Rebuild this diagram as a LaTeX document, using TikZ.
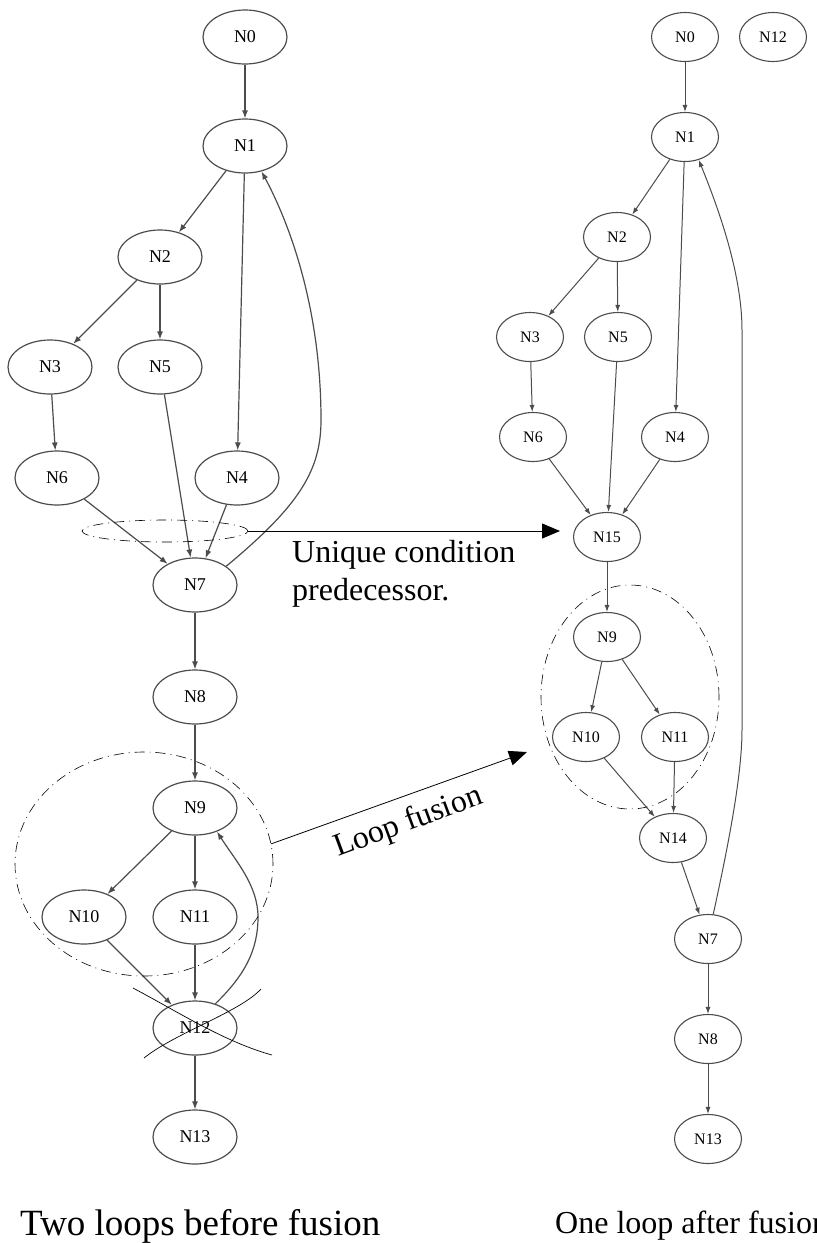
\documentclass[tikz,border=0pt]{standalone}
\usepackage{fontspec}
\setmainfont{Liberation Serif}
\usetikzlibrary{shapes.geometric,arrows.meta}
\begin{document}
\begin{tikzpicture}[x=1pt,y=-1pt,
  lnode/.style={ellipse,draw=black!70,line width=1.2pt,minimum width=84pt,minimum height=54pt,inner sep=0pt,font=\fontsize{18}{20}\selectfont},
  rnode/.style={ellipse,draw=black!70,line width=1.1pt,minimum width=67pt,minimum height=49pt,inner sep=0pt,font=\fontsize{16}{18}\selectfont},
  ledge/.style={draw=black!70,line width=1.2pt,-{Latex[length=8pt,width=6pt]}},
  redge/.style={draw=black!70,line width=1pt,-{Latex[length=7pt,width=5pt]}},
  dashdot/.style={draw=black,line width=0.6pt,dash pattern=on 10pt off 5pt on 1pt off 5pt},
  bigarrow/.style={draw=black,line width=0.8pt,-{Triangle[length=18pt,width=15pt]}},
  lbltext/.style={font=\fontsize{32}{38}\selectfont,inner sep=0pt}
]
\useasboundingbox (0,0) rectangle (817,1243);

% ---------- left graph ----------
\node[lnode] (a0) at (245,37) {N0};
\node[lnode] (a1) at (245,146) {N1};
\node[lnode] (a2) at (160,257) {N2};
\node[lnode] (a3) at (50,367) {N3};
\node[lnode] (a5) at (160,367) {N5};
\node[lnode] (a6) at (57,478) {N6};
\node[lnode] (a4) at (237,478) {N4};
\node[lnode] (a7) at (195,585) {N7};
\node[lnode] (a8) at (195,697) {N8};
\node[lnode] (a9) at (195,808) {N9};
\node[lnode] (a10) at (84,917) {N10};
\node[lnode] (a11) at (195,917) {N11};
\node[lnode] (a12) at (195,1028) {N12};
\node[lnode] (a13) at (195,1137) {N13};

\draw[ledge] (a0) -- (a1);
\draw[ledge] (a1) -- (a2);
\draw[ledge] (a1) -- (a4);
\draw[ledge] (a2) -- (a3);
\draw[ledge] (a2) -- (a5);
\draw[ledge] (a3) -- (a6);
\draw[ledge] (a5) -- (a7);
\draw[ledge] (a6) -- (a7);
\draw[ledge] (a4) -- (a7);
\draw[ledge] (a7.31) .. controls (300,505) and (321,470) .. (321,420)
   .. controls (321,300) and (285,215) .. (a1.-57);
\draw[ledge] (a7) -- (a8);
\draw[ledge] (a8) -- (a9);
\draw[ledge] (a9) -- (a10);
\draw[ledge] (a9) -- (a11);
\draw[ledge] (a10) -- (a12);
\draw[ledge] (a11) -- (a12);
\draw[ledge] (a12.50) .. controls (245,975) and (258,950) .. (258,917)
   .. controls (258,885) and (235,860) .. (a9.-47);
\draw[ledge] (a12) -- (a13);

% cross over N12
\draw[line width=0.7pt] (133,988) .. controls (180,1013) and (225,1042) .. (272,1055);
\draw[line width=0.7pt] (144,1058) .. controls (175,1033) and (240,1012) .. (261,989);

% ---------- right graph ----------
\node[rnode] (b0) at (685,37) {N0};
\node[rnode] (b12) at (773,37) {N12};
\node[rnode] (b1) at (685,137) {N1};
\node[rnode] (b2) at (617,237) {N2};
\node[rnode] (b3) at (530,337) {N3};
\node[rnode] (b5) at (618,337) {N5};
\node[rnode] (b6) at (533,437) {N6};
\node[rnode] (b4) at (675,437) {N4};
\node[rnode] (b15) at (607,537) {N15};
\node[rnode] (b9) at (607,637) {N9};
\node[rnode] (b10) at (586,737) {N10};
\node[rnode] (b11) at (675,737) {N11};
\node[rnode] (b14) at (673,838) {N14};
\node[rnode] (b7) at (708,939) {N7};
\node[rnode] (b8) at (708,1039) {N8};
\node[rnode] (b13) at (708,1139) {N13};

\draw[redge] (b0) -- (b1);
\draw[redge] (b1) -- (b2);
\draw[redge] (b1) -- (b4);
\draw[redge] (b2) -- (b3);
\draw[redge] (b2) -- (b5);
\draw[redge] (b3) -- (b6);
\draw[redge] (b5) -- (b15);
\draw[redge] (b6) -- (b15);
\draw[redge] (b4) -- (b15);
\draw[redge] (b15) -- (b9);
\draw[redge] (b9) -- (b10);
\draw[redge] (b9) -- (b11);
\draw[redge] (b10) -- (b14);
\draw[redge] (b11) -- (b14);
\draw[redge] (b14) -- (b7);
\draw[redge] (b7.78) .. controls (725,860) and (742,780) .. (742,730) -- (742,330)
   .. controls (742,270) and (715,200) .. (b1.-59);
\draw[redge] (b7) -- (b8);
\draw[redge] (b8) -- (b13);

% ---------- annotations ----------
\node[ellipse,dashdot,minimum width=166pt,minimum height=22pt,inner sep=0pt] (c1) at (165,531) {};
\node[ellipse,dashdot,minimum width=258pt,minimum height=224pt,inner sep=0pt] (c2) at (144,864) {};
\node[ellipse,dashdot,minimum width=178pt,minimum height=224pt,inner sep=0pt] (c3) at (630,697) {};
\coordinate (p1) at (560,531);
\coordinate (p2) at (527,752);
\draw[bigarrow] (c1.east) -- (p1);
\draw[bigarrow] (c2.9) -- (p2);

\node[lbltext,anchor=base west] (t1) at (292,562) {Unique condition};
\node[lbltext,anchor=base west] (t2) at (292,600) {predecessor.};
\node[lbltext,anchor=base west,rotate=20.3] (t3) at (338,857) {Loop fusion};

\node[anchor=base west,inner sep=0pt,font=\fontsize{37}{44}\selectfont] (cap1) at (20,1235) {Two loops before fusion};
\node[anchor=base west,inner sep=0pt,font=\fontsize{32}{38}\selectfont] (cap2) at (555,1233) {One loop after fusion};
\end{tikzpicture}
\end{document}
